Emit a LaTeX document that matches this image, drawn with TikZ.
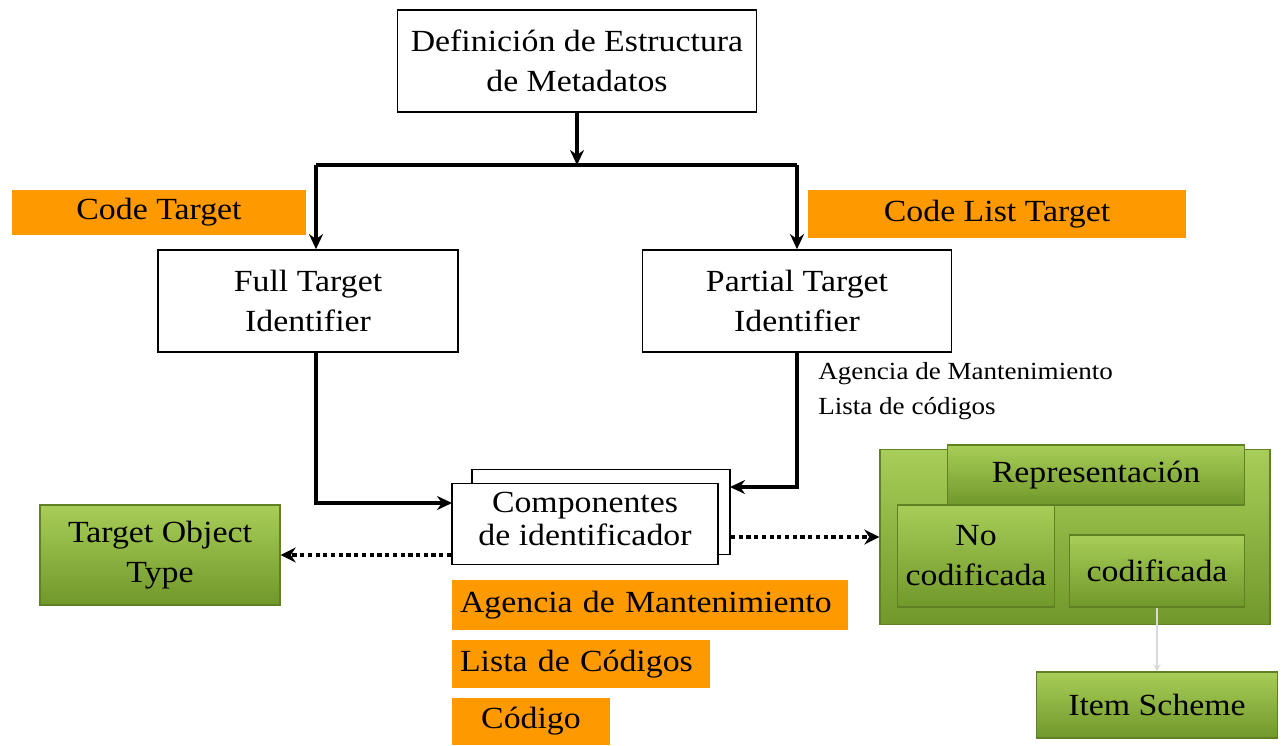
\documentclass[tikz,border=0pt]{standalone}
\usepackage{fontspec}
\setmainfont[FakeStretch=1.1]{Liberation Serif}
\usetikzlibrary{arrows,arrows.meta,positioning}
\definecolor{boxorange}{RGB}{255,153,0}
\definecolor{greentop}{RGB}{168,205,88}
\definecolor{greenbot}{RGB}{112,152,42}
\definecolor{greenline}{RGB}{96,128,36}
\tikzset{
  wbox/.style={draw=black,line width=1pt,fill=white,align=center,inner sep=0pt,
    font=\fontsize{17.5}{22.7}\selectfont},
  obox/.style={fill=boxorange,inner sep=0pt,font=\fontsize{17.5}{22}\selectfont},
  gbox/.style={draw=greenline,line width=0.8pt,top color=greentop,bottom color=greenbot,
    align=center,inner sep=0pt,font=\fontsize{17.5}{22.7}\selectfont},
  arrow/.style={line width=2pt,->,>={Stealth[length=0.3cm,width=0.28cm]}},
  dotarrow/.style={line width=2.4pt,dotted,->,>={Stealth[length=0.3cm,width=0.3cm]}}
}
\begin{document}
\begin{tikzpicture}[x=0.02cm,y=-0.02cm]
    \useasboundingbox (0,0) rectangle (1281,745);
    % top part
    \node[wbox,minimum width=7.18cm,minimum height=2.04cm] (def) at (577,61) {Definición de Estructura\\de Metadatos};
    \node[wbox,minimum width=6.0cm,minimum height=2.04cm] (full) at (308,301) {Full Target\\Identifier};
    \node[wbox,minimum width=6.18cm,minimum height=2.04cm] (partial) at (797,301) {Partial Target\\Identifier};
    \node[obox,minimum width=5.88cm,minimum height=0.9cm] (codet) at (159,212) {Code Target};
    \node[obox,minimum width=7.56cm,minimum height=0.96cm] (codelt) at (997,214) {Code List Target};
    \node[anchor=north west,align=left,inner sep=0pt,font=\fontsize{14}{19.8}\selectfont] (agnote) at (818,362) {Agencia de Mantenimiento\\Lista de códigos};
    \coordinate (jl) at (316,165);
    \coordinate (jr) at (797,165);
    \draw[arrow] (def.south) -- (def.south |- jl);
    \draw[line width=2pt] (jl) -- (jr);
    \draw[arrow] (jl) -- (jl |- full.north);
    \draw[arrow] (jr) -- (partial.north);
    % components
    \node[wbox,minimum width=5.16cm,minimum height=1.7cm] (compb) at (601,512) {};
    \node[wbox,minimum width=5.32cm,minimum height=1.62cm] (compf) at (585,524) {\raisebox{0.2cm}{\shortstack{Componentes\\de identificador}}};
    \coordinate (cin) at (452,503);
    \coordinate (cin2) at (730,487);
    \draw[arrow] (jl |- full.south) |- (cin);
    \draw[arrow] (partial.south) |- (cin2);
    \node[obox,minimum width=7.92cm,minimum height=1.0cm,text width=7.6cm,align=left] (agencia) at (650,605) {Agencia de Mantenimiento};
    \node[obox,minimum width=5.16cm,minimum height=0.96cm,text width=4.84cm,align=left] (lista) at (581,664) {Lista de Códigos};
    \node[obox,minimum width=3.16cm,minimum height=0.94cm] (codigo) at (531,721) {Código};
    % green side
    \node[gbox,minimum width=4.8cm,minimum height=2.0cm] (tot) at (160,555) {Target Object\\Type};
    \node[gbox,minimum width=7.8cm,minimum height=3.5cm] (rep) at (1075,537) {};
    \node[gbox,minimum width=5.94cm,minimum height=1.2cm] (repr) at (1096,475) {Representación};
    \node[gbox,minimum width=3.14cm,minimum height=2.04cm] (nocod) at (976,556) {No\\codificada};
    \node[gbox,minimum width=3.5cm,minimum height=1.44cm] (cod) at (1157,571) {codificada};
    \node[gbox,minimum width=4.82cm,minimum height=1.32cm] (item) at (1157,705) {Item Scheme};
    \draw[dotarrow] (compf.west |- tot.east) -- (tot.east);
    \draw[dotarrow] (compb.east |- rep.west) -- (rep.west);
    \draw[black!15,line width=0.8pt,->,>=stealth] (cod.south) -- (item.north);
\end{tikzpicture}
\end{document}
